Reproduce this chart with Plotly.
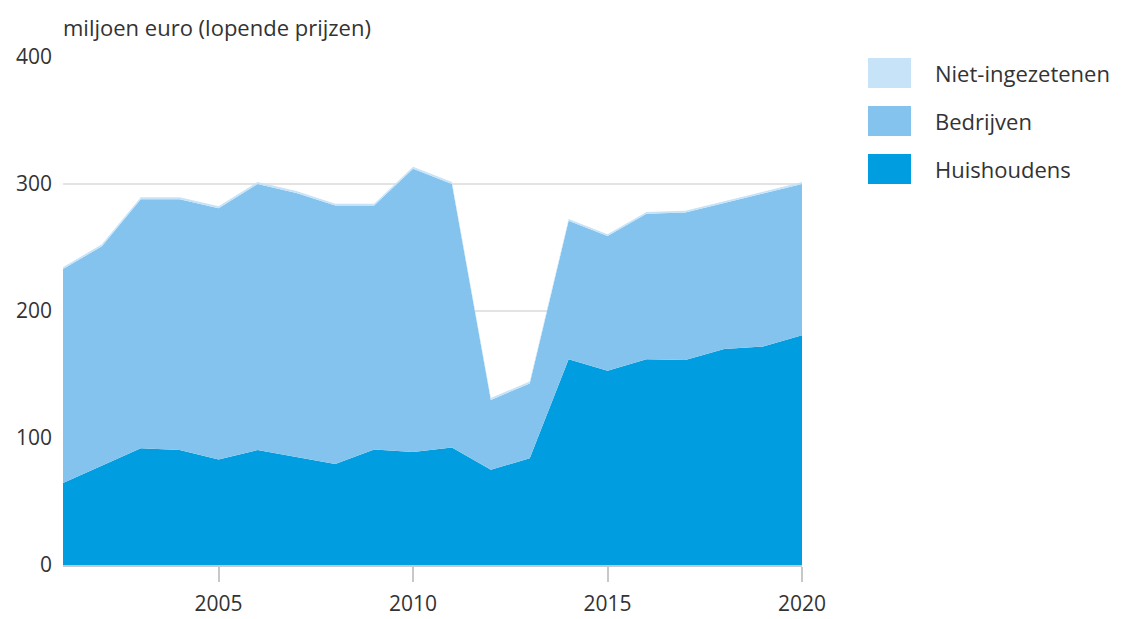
import plotly.graph_objects as go

years = list(range(2001, 2021))
huishoudens = [64.5, 78, 92, 90.5, 83, 90.5, 85, 79.5, 91, 89, 92.5, 75, 84, 162, 153, 162, 161.5, 170, 172, 181]
bedrijven_top = [233, 251, 288, 288, 281, 300, 293, 283, 283, 312, 300, 130, 143, 271, 259, 276.5, 277.5, 285, 293, 300]
bedrijven = [t - h for t, h in zip(bedrijven_top, huishoudens)]
niet_ingezetenen = [1.5] * 20

colors = {"Huishoudens": "#009de0", "Bedrijven": "#84c3ee", "Niet-ingezetenen": "#c6e3f8"}
ytick_vals = [0, 100, 200, 300, 400]
xtick_vals = [2005, 2010, 2015, 2020]

FONT = "Open Sans, Noto Sans, sans-serif"
TXT = "#333333"

fig = go.Figure()
for name, vals in [("Huishoudens", huishoudens), ("Bedrijven", bedrijven), ("Niet-ingezetenen", niet_ingezetenen)]:
    fig.add_trace(go.Scatter(
        x=years, y=vals, name=name, stackgroup="one", mode="lines",
        line=dict(width=0, color=colors[name]), fillcolor=colors[name],
        showlegend=False,
    ))

W, H = 1126, 619
OFF = 8  # page body margin
L, R, T, B = 63 - OFF, 802 - OFF, 57 - OFF, 565 - OFF

fig.update_layout(
    width=W, height=H,
    margin=dict(l=L, r=W - R, t=T, b=H - B, autoexpand=False),
    plot_bgcolor="white", paper_bgcolor="white",
    font=dict(family=FONT, size=22, color=TXT),
    xaxis=dict(range=[2001, 2020], tickvals=xtick_vals, ticks="outside", ticklen=15,
               tickcolor="#c8c8c8", tickwidth=1.5, showgrid=False, zeroline=False,
               showline=True, linecolor="#c8c8c8", linewidth=1.5, ticklabelstandoff=4,
               automargin=False, tickfont=dict(size=21, color=TXT)),
    yaxis=dict(range=[0, 400], tickvals=ytick_vals, showgrid=True, gridcolor="#e3e3e3",
               gridwidth=2, zeroline=False, showline=False, ticks="", ticklabelstandoff=10,
               automargin=False, tickfont=dict(size=21, color=TXT)),
)

pw = R - L
ph = B - T

def px(x):
    return (x - OFF - L) / pw

def py(y):
    return (B - (y - OFF)) / ph

# title
fig.add_annotation(text="miljoen euro (lopende prijzen)", xref="paper", yref="paper",
                   x=px(61), y=py(27), xanchor="left", yanchor="middle",
                   showarrow=False, font=dict(size=22, color=TXT, family=FONT))

# legend
legend_rows = [("Niet-ingezetenen", 73), ("Bedrijven", 121), ("Huishoudens", 169)]
for name, yc in legend_rows:
    fig.add_shape(type="rect", xref="paper", yref="paper", x0=px(868), x1=px(911),
                  y0=py(yc + 15), y1=py(yc - 15),
                  fillcolor=colors[name], line=dict(width=0))
    fig.add_annotation(text=name, xref="paper", yref="paper", x=px(933), y=py(yc),
                       xanchor="left", yanchor="middle", showarrow=False,
                       font=dict(size=22, color=TXT, family=FONT))

fig.write_html("out.html")
